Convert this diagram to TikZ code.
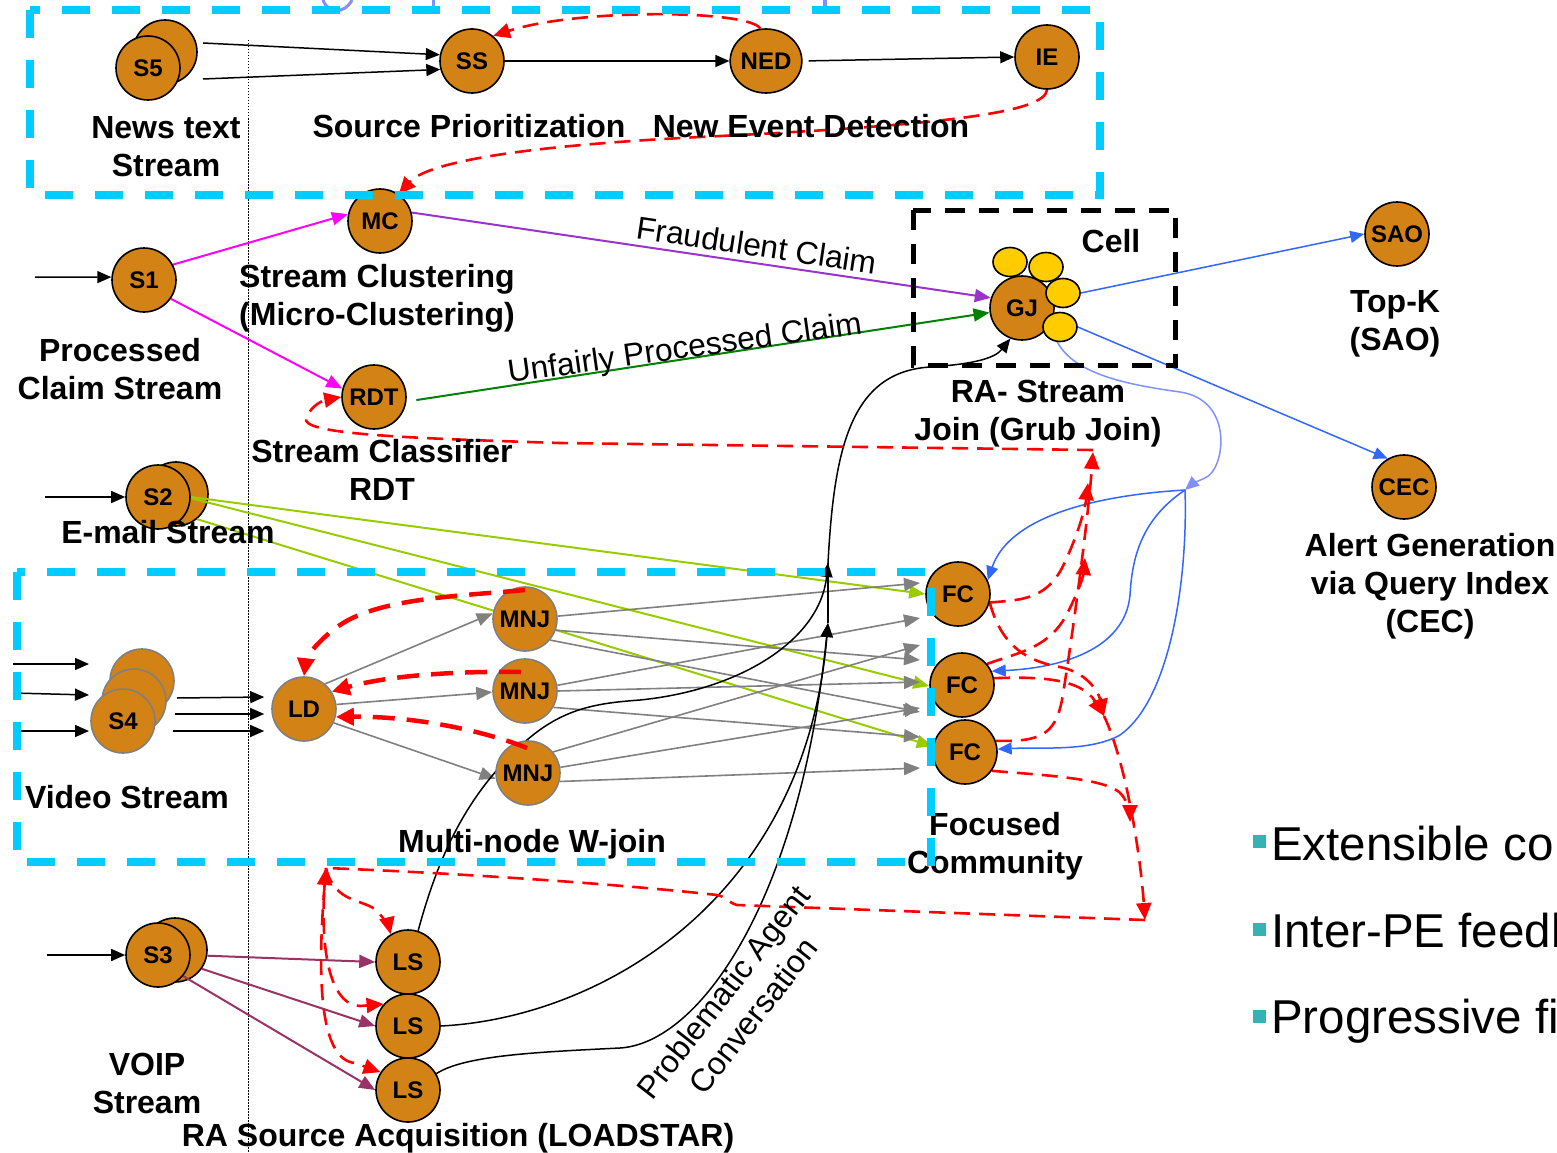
\documentclass[tikz,border=0pt]{standalone}
\usepackage{fontspec}
\setmainfont{Liberation Sans}
\usetikzlibrary{arrows.meta,shapes.geometric}
\pgfdeclarelayer{behind}
\pgfdeclarelayer{front}
\pgfsetlayers{behind,main,front}

\definecolor{nodefill}{RGB}{211,130,22}
\definecolor{cyanbox}{RGB}{0,204,255}
\definecolor{ballyellow}{RGB}{255,204,0}
\definecolor{magentaE}{RGB}{255,0,255}
\definecolor{purpleE}{RGB}{153,51,204}
\definecolor{greenE}{RGB}{0,128,0}
\definecolor{blueE}{RGB}{51,102,255}
\definecolor{periE}{RGB}{128,144,255}
\definecolor{limeE}{RGB}{153,204,0}
\definecolor{edgegray}{RGB}{128,128,128}
\definecolor{maroonE}{RGB}{153,51,102}
\definecolor{bulletteal}{RGB}{51,179,179}

\tikzset{
  pe/.style={circle,draw=black,line width=1.6pt,fill=nodefill,minimum size=64pt,inner sep=0pt,
    font=\fontsize{24}{28}\selectfont\bfseries},
  peg/.style={pe,draw=edgegray},
  cellball/.style={ellipse,draw=black,line width=1.6pt,fill=ballyellow,minimum width=34pt,
    minimum height=29pt,inner sep=0pt},
  lbl/.style={font=\fontsize{32}{38}\selectfont\bfseries,align=center,inner sep=0pt},
  rlbl/.style={font=\fontsize{31.8}{38}\selectfont,align=center,inner sep=0pt},
  bullet/.style={font=\fontsize{47.5}{50}\selectfont,inner sep=0pt,anchor=base west},
  flow/.style={line width=1.5pt,-{Triangle[length=14pt,width=12pt]}},
  cflow/.style={line width=2pt,-{Triangle[length=16pt,width=13pt]}},
  grayflow/.style={line width=1.6pt,edgegray,-{Triangle[length=16pt,width=13pt]}},
  feed/.style={red,line width=2.6pt,dash pattern=on 16pt off 9pt,-{Triangle[length=17pt,width=15pt]}},
  feedthick/.style={red,line width=4.5pt,dash pattern=on 22pt off 12pt,-{Triangle[length=18pt,width=17pt]}},
  region/.style={draw=cyanbox,line width=8pt,dash pattern=on 28pt off 22pt},
  cellbox/.style={draw=black,line width=5pt,dash pattern=on 20pt off 14pt},
  guide/.style={draw=black,line width=1pt,dash pattern=on 1.5pt off 1.5pt},
}

\begin{document}
\begin{tikzpicture}[x=1pt,y=-1pt]
\useasboundingbox (0,0) rectangle (1557,1153);
\clip (0,0) rectangle (1557,1153);

% ---------- back circles of stacked sources and all connectors ----------
\begin{pgfonlayer}{behind}
\node[pe] (S2b) at (176,494) {};
\node[pe] (S3b) at (175,950) {};

% dotted separator
\draw[guide] (248,40) -- (248,1153);

% partial shapes at the upper edge
\draw[periE,line width=3pt] (323,0) .. controls (328,14) and (345,14) .. (352,0);
\draw[periE,line width=3pt] (433,0) -- (433,14);
\draw[periE,line width=4pt] (825,0) -- (825,14);

% news text stream
\coordinate (s5o1) at (203,43);
\coordinate (s5o2) at (203,79);
\node[pe] (SS) at (472,61) {SS};
\draw[flow] (s5o1) -- (SS.169);
\draw[flow] (s5o2) -- (SS.195);
\end{pgfonlayer}

% ---------- nodes ----------
\node[pe] (S5b) at (165,52) {};
\node[pe] (S5) at (148,68) {S5};
\node[pe,ellipse,minimum width=68pt,minimum height=64pt] (NED) at (766,61) {NED};
\node[pe] (IE) at (1047,57) {IE};
\node[pe] (MC) at (380,221) {MC};
\node[pe] (S1) at (144,280) {S1};
\node[pe] (RDT) at (374,397) {RDT};
\node[pe] (S2) at (158,497) {S2};
\node[cellball] (y1) at (1010,262) {};
\node[cellball] (y2) at (1046,267) {};
\node[pe] (GJ) at (1022,308) {GJ};
\node[cellball] (y3) at (1063,293) {};
\node[cellball] (y4) at (1060,327) {};
\node[pe] (SAO) at (1397,234) {SAO};
\node[pe] (CEC) at (1404,487) {CEC};
\node[peg] (S4c) at (142,681) {};
\node[peg] (S4b) at (134,701) {};
\node[peg] (S4) at (123,721) {S4};
\node[peg] (LD) at (304,709) {LD};
\node[peg] (MNJ1) at (525,619) {MNJ};
\node[peg] (MNJ2) at (525,691) {MNJ};
\node[peg] (MNJ3) at (528,773) {MNJ};
\node[pe] (FC1) at (958,594) {FC};
\node[pe] (FC2) at (962,685) {FC};
\node[pe] (FC3) at (965,752) {FC};
\node[pe] (S3) at (158,955) {S3};
\node[pe] (LS1) at (408,962) {LS};
\node[pe] (LS2) at (408,1026) {LS};
\node[pe] (LS3) at (408,1090) {LS};

\begin{pgfonlayer}{behind}
% news pipeline
\draw[flow] (SS.east) -- (NED.west);
\draw[flow,shorten <=6pt] (NED.east) -- (IE.west);
\draw[feed] (NED.100) .. controls (750,10) and (580,8) .. (SS.50);
\draw[feed] (IE.-90) .. controls (1045,112) and (950,125) .. (700,137)
  .. controls (500,147) and (425,165) .. (MC.55);

% claim stream
\coordinate (in1) at (35,277);
\draw[flow] (in1) -- (S1.175);
\draw[cflow,magentaE] (S1.28) -- (MC.168);
\draw[cflow,magentaE] (S1.-35) -- (RDT.165);
\draw[cflow,purpleE] (MC.15) -- (GJ.162);
\draw[cflow,greenE,shorten <=10pt] (RDT.-8) -- (GJ.188);
\draw[flow,blueE] (y3.east) -- (SAO.west);
\draw[flow,blueE] (y4.east) -- (CEC.120);

% grub join to focused community
\coordinate (hub) at (1185,490);
\draw[flow,periE] (y4.-100) .. controls (1075,375) and (1130,385) .. (1180,392)
  .. controls (1235,400) and (1225,470) .. (1205,478)
  .. controls (1198,481) and (1192,484) .. (hub);
\draw[flow,blueE] (hub) .. controls (1100,495) and (1010,515) .. (FC1.25);
\draw[flow,blueE] (hub) .. controls (1140,520) and (1132,560) .. (1130,595)
  .. controls (1125,650) and (1060,668) .. (FC2.25);
\draw[flow,blueE] (hub) .. controls (1188,580) and (1170,700) .. (1120,735)
  .. controls (1090,752) and (1040,747) .. (FC3.5);

% e-mail stream
\coordinate (in2) at (45,497);
\draw[flow] (in2) -- (S2.west);
\draw[cflow,limeE] (S2.east) -- (FC1.180);
\draw[cflow,limeE] (S2.-2) -- (FC2.182);
\draw[cflow,limeE] (S2b.-50) -- (FC3.170);

% video stream
\coordinate (v1) at (13,664);  \coordinate (v1e) at (89,664);
\coordinate (v2) at (13,693);  \coordinate (v2e) at (89,695);
\coordinate (v3) at (13,731);  \coordinate (v3e) at (89,731);
\draw[flow] (v1) -- (v1e);
\draw[flow] (v2) -- (v2e);
\draw[flow] (v3) -- (v3e);
\coordinate (s4o1) at (177,698);
\coordinate (s4o2) at (175,714);
\coordinate (s4o3) at (173,731);
\draw[flow] (s4o1) -- ([shift={(-7,-12)}]LD.west);
\draw[flow] (s4o2) -- ([shift={(-7,5)}]LD.west);
\draw[flow] (s4o3) -- ([shift={(-7,22)}]LD.west);
\draw[grayflow] (LD.50) -- (MNJ1.170);
\draw[grayflow] (LD.8) -- (MNJ2.182);
\draw[grayflow] (LD.-25) -- (MNJ3.190);

% multi-node join outputs
\coordinate (g1) at (920,583);
\coordinate (g2) at (920,618);
\coordinate (g3) at (920,645);
\coordinate (g4) at (920,660);
\coordinate (g5) at (920,682);
\coordinate (g6) at (920,708);
\coordinate (g7) at (920,712);
\coordinate (g8) at (920,737);
\coordinate (g9) at (920,768);
\draw[grayflow] (MNJ1.5) -- (g1);
\draw[grayflow] (MNJ1.-20) -- (g4);
\draw[grayflow] (MNJ1.-40) -- (g7);
\draw[grayflow] (MNJ2.10) -- (g2);
\draw[grayflow] (MNJ2.0) -- (g5);
\draw[grayflow] (MNJ2.-30) -- (g8);
\draw[grayflow] (MNJ3.40) -- (g3);
\draw[grayflow] (MNJ3.10) -- (g6);
\draw[grayflow] (MNJ3.-15) -- (g9);

% VOIP stream
\coordinate (in3) at (47,955);
\draw[flow] (in3) -- (S3.west);
\draw[cflow,maroonE] (S3b.-10) -- (LS1.west);
\draw[cflow,maroonE] (S3b.-35) -- (LS2.west);
\draw[cflow,maroonE] (S3.-40) -- (LS3.west);

% problematic agent conversations
\coordinate (pjA) at (828,563);
\coordinate (pjB) at (828,623);
\draw[flow] (LS1.72) .. controls (440,850) and (470,790) .. (527,740)
  .. controls (565,707) and (600,703) .. (640,700)
  .. controls (740,690) and (820,640) .. (pjA);
\draw[flow] (pjA) .. controls (834,450) and (850,372) .. (930,367)
  .. controls (975,364) and (995,358) .. (GJ.249);
\draw[line width=1.5pt] (pjB) -- (pjA);
\draw[flow] (LS2.east) .. controls (600,1018) and (805,900) .. (pjB);
\draw[flow] (LS3.30) .. controls (465,1055) and (540,1052) .. (620,1048)
  .. controls (700,1043) and (800,900) .. (pjB);

% feedback from the focused community
\coordinate (upA) at (1093,452);
\coordinate (upB) at (1088,483);
\coordinate (upC) at (1085,558);
\coordinate (topJ) at (1093,450);
\draw[feed] (FC3.20) .. controls (1040,742) and (1055,735) .. (1062,700)
  .. controls (1072,640) and (1088,520) .. (upA);
\draw[feed] (FC1.-15) .. controls (1020,600) and (1045,600) .. (1062,568)
  .. controls (1076,540) and (1085,510) .. (upB);
\draw[feed] (FC2.40) .. controls (1020,652) and (1050,648) .. (1068,612)
  .. controls (1077,594) and (1083,578) .. (upC);
\draw[feed] (topJ) -- (560,443) .. controls (400,438) and (300,434) .. (306,418)
  .. controls (312,404) and (325,400) .. (RDT.west);

\coordinate (dnA) at (1104,716);
\coordinate (dnB) at (1130,822);
\coordinate (dnC) at (1145,920);
\coordinate (lsJ) at (326,868);
\draw[feed] (FC1.-15) .. controls (1000,640) and (1020,660) .. (1060,667)
  .. controls (1085,672) and (1098,690) .. (dnA);
\draw[feed] (FC2.12) .. controls (1030,677) and (1080,676) .. (dnA);
\draw[feed] (dnA) .. controls (1125,760) and (1140,850) .. (dnC);
\draw[feed] (FC3.-35) .. controls (1040,775) and (1110,778) .. (1122,795)
  .. controls (1128,803) and (1130,812) .. (dnB);
\draw[feed,-] (dnC) -- (737,905) .. controls (727,902) and (727,897) .. (717,895)
  .. controls (600,882) and (430,872) .. (lsJ);
\draw[feed] (lsJ) .. controls (335,905) and (365,898) .. (378,912)
  .. controls (385,920) and (389,927) .. (LS1.122);
\draw[feed] (lsJ) .. controls (318,950) and (330,1005) .. (360,1006) -- (LS2.138);
\draw[feed,{Triangle[length=17pt,width=15pt]}-{Triangle[length=17pt,width=15pt]}]
  (lsJ) .. controls (316,990) and (322,1060) .. (355,1063) -- (LS3.147);
\end{pgfonlayer}

% feedback from the joins to the load diffusion node
\draw[feedthick] ([shift={(0,-29)}]MNJ1.center) .. controls (460,596) and (380,598) .. (340,625)
  .. controls (318,640) and (306,658) .. (LD.north);
\draw[feedthick] ([shift={(-4,-19)}]MNJ2.center) .. controls (460,671) and (390,675) .. (LD.32);
\draw[feedthick] ([shift={(-1,-25)}]MNJ3.center) .. controls (490,733) and (420,716) .. (LD.-14);

% ---------- labels (base anchor = baseline of the last line) ----------
\node[lbl,anchor=base] (lNews) at (166,176) {News text\\Stream};
\node[lbl,anchor=base] (lSP) at (469,137) {Source Prioritization};
\node[lbl,anchor=base] (lNED) at (811,137) {New Event Detection};
\node[lbl,anchor=base] (lSC) at (377,325) {Stream Clustering\\(Micro-Clustering)};
\node[lbl,anchor=base] (lPC) at (120,399) {Processed\\Claim Stream};
\node[lbl,anchor=base] (lCl) at (382,500) {Stream Classifier\\RDT};
\node[lbl,anchor=base] (lEm) at (168,543) {E-mail Stream};
\node[lbl,anchor=base] (lVid) at (127,808) {Video Stream};
\node[lbl,anchor=base] (lMN) at (532,852) {Multi-node W-join};
\node[lbl,anchor=base] (lFC) at (995,873) {Focused\\Community};
\node[lbl,anchor=base] (lVoip) at (147,1113) {VOIP\\Stream};
\node[lbl,anchor=base] (lRA) at (458,1146) {RA Source Acquisition (LOADSTAR)};
\node[lbl,anchor=base] (lCell) at (1111,252) {Cell};
\node[lbl,anchor=base] (lGJ) at (1038,440) {RA- Stream\\Join (Grub Join)};
\node[lbl,anchor=base] (lTop) at (1395,350) {Top-K\\(SAO)};
\node[lbl,anchor=base] (lCEC) at (1430,632) {Alert Generation\\via Query Index\\(CEC)};
\node[rlbl,rotate=-8.5] (lFr) at (757,245) {Fraudulent Claim};
\node[rlbl,rotate=8] (lUn) at (685,350) {Unfairly Processed Claim};
\node[rlbl,rotate=52] (lPA) at (738,1004) {Problematic Agent\\Conversation};

% bullet list
\fill[bulletteal] (1253,835) rectangle (1266,848);
\fill[bulletteal] (1253,923) rectangle (1266,936);
\fill[bulletteal] (1253,1010) rectangle (1266,1023);
\node[bullet] (b1) at (1271,860) {Extensible co};
\node[bullet] (b2) at (1271,947) {Inter-PE feedb};
\node[bullet] (b3) at (1271,1033) {Progressive fi};

% ---------- dashed region outlines ----------
\begin{pgfonlayer}{front}
\draw[region] (30,10) rectangle (1100,195);
\draw[region] (17,572) rectangle (931,862);
\draw[cellbox] (913,210) rectangle (1175,365);
\end{pgfonlayer}
\end{tikzpicture}
\end{document}
